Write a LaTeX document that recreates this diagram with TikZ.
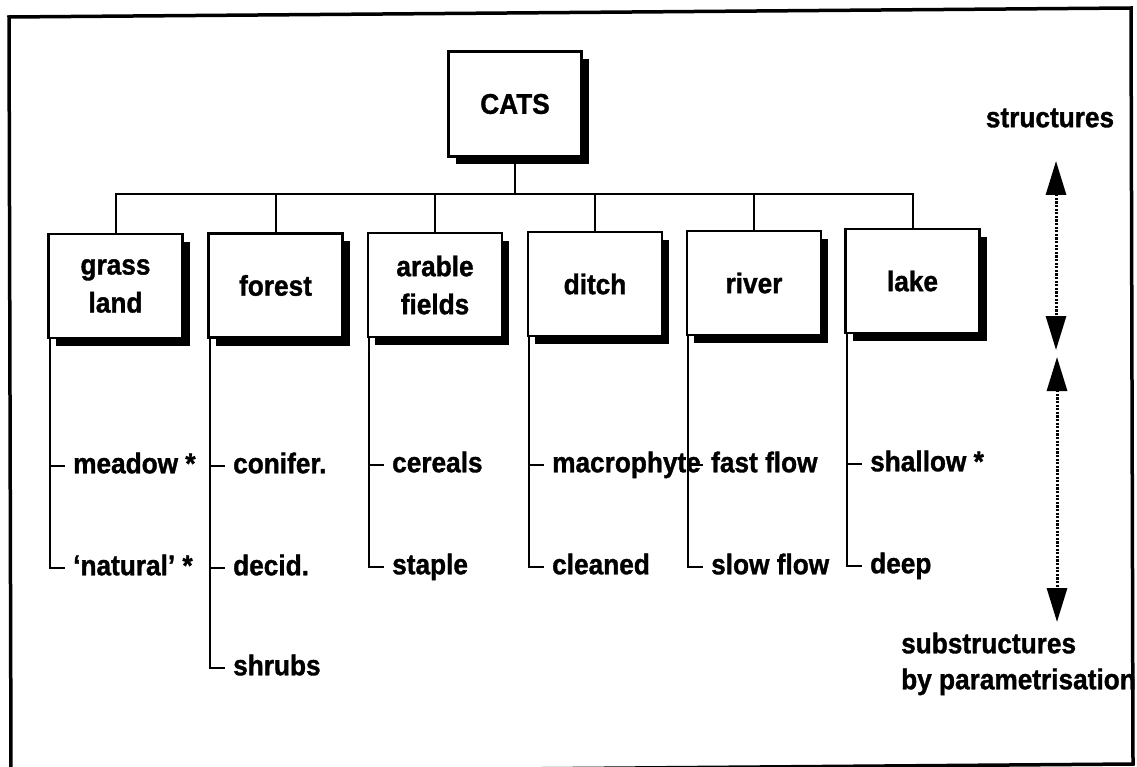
\documentclass[tikz,border=0pt]{standalone}
\usepackage{fontspec}
\setmainfont{Liberation Sans}[FakeStretch=0.92]
\newfontfamily\heavy{Liberation Sans}[FakeStretch=0.92,BoldFont={* Bold},BoldFeatures={FakeBold=1.2}]
\usetikzlibrary{arrows.meta,shadows}
\begin{document}
\begin{tikzpicture}[x=1pt,y=-1pt,
  font=\heavy\fontsize{28.5}{38}\selectfont\bfseries,
  box/.style={draw, line width=2.2pt, fill=white, minimum width=134pt,
    minimum height=104pt, inner sep=0pt, align=center,
    drop shadow={shadow xshift=7pt, shadow yshift=-8pt, opacity=1, fill=black}},
  conn/.style={line width=2pt},
  item/.style={anchor=west, inner sep=0pt, text height=14.5pt, text depth=0pt},
  label/.style={inner sep=0pt, text height=14.5pt, text depth=0pt},
  dotarrow/.style={line width=3pt, dash pattern=on 2.2pt off 1.4pt,
    {Triangle[length=34pt,width=20pt]}-{Triangle[length=34pt,width=20pt]}}
]
\useasboundingbox (0,0) rectangle (1137,767);
% outer frame
\draw[line width=3.5pt] (9,17) -- (1131,8) -- (1133,764) -- (11,773) -- cycle;

% root
\node[box, minimum width=133pt, minimum height=105pt] (cats) at (515,104) {CATS};

% children
\node[box] (g) at (115.5,286) {grass\\land};
\node[box] (f) at (275.5,285.5) {forest};
\node[box] (a) at (435,285) {arable\\fields};
\node[box] (d) at (595,284) {ditch};
\node[box] (r) at (754,283) {river};
\node[box] (l) at (912.5,281) {lake};

% tree bus
\coordinate (bus) at (515,194);
\draw[conn] (cats.south) -- (bus);
\draw[conn] (g.north) -- (g.north |- bus) -- (l.north |- bus) -- (l.north);
\foreach \n in {f,a,d,r} \draw[conn] (\n.north) -- (\n.north |- bus);

% sub-items
\node[item] (g1) at (73,466) {meadow *};
\node[item] (g2) at (73,568) {‘natural’ *};
\node[item] (f1) at (233,466) {conifer.};
\node[item] (f2) at (233,568) {decid.};
\node[item] (f3) at (233,668) {shrubs};
\node[item] (a1) at (392,465) {cereals};
\node[item] (a2) at (392,567) {staple};
\node[item] (d1) at (552,465) {macrophyte};
\node[item] (d2) at (552,567) {cleaned};
\node[item] (r1) at (711,465) {fast flow};
\node[item] (r2) at (711,567) {slow flow};
\node[item] (l1) at (870,464) {shallow *};
\node[item] (l2) at (870,566) {deep};

% branch lines
\draw[conn] ([xshift=2.5pt]g.south west) |- ([xshift=-8pt]g2.west);
\draw[conn] ([xshift=2.5pt]g.south west |- g1.west) -- ([xshift=-8pt]g1.west);
\draw[conn] ([xshift=2.5pt]f.south west) |- ([xshift=-8pt]f3.west);
\draw[conn] ([xshift=2.5pt]f.south west |- f1.west) -- ([xshift=-8pt]f1.west);
\draw[conn] ([xshift=2.5pt]f.south west |- f2.west) -- ([xshift=-8pt]f2.west);
\draw[conn] ([xshift=2.5pt]a.south west) |- ([xshift=-8pt]a2.west);
\draw[conn] ([xshift=2.5pt]a.south west |- a1.west) -- ([xshift=-8pt]a1.west);
\draw[conn] ([xshift=2.5pt]d.south west) |- ([xshift=-8pt]d2.west);
\draw[conn] ([xshift=2.5pt]d.south west |- d1.west) -- ([xshift=-8pt]d1.west);
\draw[conn] ([xshift=2.5pt]r.south west) |- ([xshift=-8pt]r2.west);
\draw[conn] ([xshift=2.5pt]r.south west |- r1.west) -- ([xshift=-8pt]r1.west);
\draw[conn] ([xshift=2.5pt]l.south west) |- ([xshift=-8pt]l2.west);
\draw[conn] ([xshift=2.5pt]l.south west |- l1.west) -- ([xshift=-8pt]l1.west);

% right-hand scale
\node[label] (st) at (1050,120) {structures};
\node[label, anchor=west] (sub) at (901,646) {substructures};
\node[label, anchor=west] (par) at (901,682) {by parametrisation};
\coordinate (u1) at (1056,161);
\coordinate (u2) at (1056,350);
\coordinate (v1) at (1057,357);
\coordinate (v2) at (1057,622);
\draw[dotarrow] (u1) -- (u2);
\draw[dotarrow] (v1) -- (v2);
\end{tikzpicture}
\end{document}
